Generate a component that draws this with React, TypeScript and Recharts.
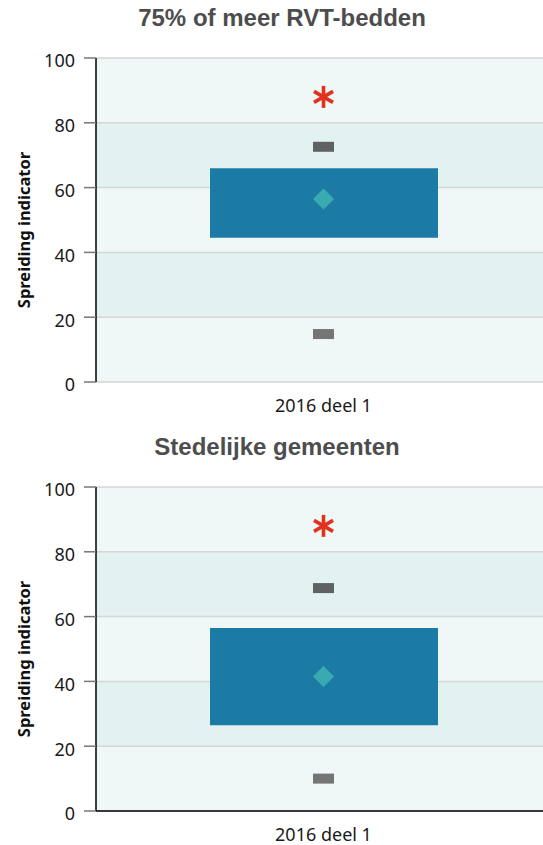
import React from "react";
import { ComposedChart, Bar, Scatter, XAxis, YAxis, CartesianGrid } from "recharts";

const categories = ["2016 deel 1"];
const titles = ["75% of meer RVT-bedden", "Stedelijke gemeenten"];
const q1Values = [44.5, 26.5];
const q3Values = [66, 56.5];
const meanValues = [56.5, 41.5];
const upperValues = [72.6, 68.8];
const lowerValues = [14.8, 10];
const outlierValues = [88, 88];
const yTicks = [0, 20, 40, 60, 80, 100];
const yAxisTitle = "Spreiding indicator";

const CHART_W = 560;
const CHART_H = 430;
const OFFSET = 429;
const titleCenters = [282, 277];

const Diamond = (props: any) => {
  const { cx, cy } = props;
  const r = 10.5;
  return <polygon points={`${cx},${cy - r} ${cx + r},${cy} ${cx},${cy + r} ${cx - r},${cy}`} fill="#38aab0" />;
};
const UpperMark = (props: any) => {
  const { cx, cy } = props;
  return <rect x={cx - 10.5} y={cy - 5} width={21} height={10} fill="#5f6163" />;
};
const LowerMark = (props: any) => {
  const { cx, cy } = props;
  return <rect x={cx - 10.5} y={cy - 5} width={21} height={10} fill="#757575" />;
};
const Asterisk = (props: any) => {
  const { cx, cy } = props;
  const r = 11;
  const angles = [90, 30, 150];
  return (
    <g stroke="#e2311d" strokeWidth={3.6}>
      {angles.map((a) => {
        const rad = (a * Math.PI) / 180;
        const dx = Math.cos(rad) * r;
        const dy = Math.sin(rad) * r;
        return <line key={a} x1={cx - dx} y1={cy - dy} x2={cx + dx} y2={cy + dy} />;
      })}
    </g>
  );
};

function BoxChart({ idx }: { idx: number }) {
  const data = [
    {
      cat: categories[0],
      box: [q1Values[idx], q3Values[idx]],
      mean: meanValues[idx],
      upper: upperValues[idx],
      lower: lowerValues[idx],
      outlier: outlierValues[idx],
    },
  ];
  const tickStyle = { fill: "#1a1a1a", fontSize: 18, fontFamily: "'Noto Sans', sans-serif" };
  return (
    <div style={{ position: "absolute", left: 0, top: idx * OFFSET, width: CHART_W, height: CHART_H }}>
      <div
        style={{
          position: "absolute",
          left: titleCenters[idx] - 220,
          width: 440,
          top: 5.7,
          textAlign: "center",
          fontFamily: "'Liberation Sans', Arial, sans-serif",
          fontWeight: "bold",
          fontSize: 24,
          lineHeight: "24px",
          color: "#4d4d4d",
          whiteSpace: "nowrap",
        }}
      >
        {titles[idx]}
      </div>
      <div
        style={{
          position: "absolute",
          left: 24,
          top: 230,
          transform: "translate(-50%, -50%) rotate(-90deg)",
          fontFamily: "'Noto Sans', sans-serif",
          fontWeight: "bold",
          fontSize: 16.5,
          lineHeight: 1,
          color: "#111",
          whiteSpace: "nowrap",
        }}
      >
        {yAxisTitle}
      </div>
      <ComposedChart
        width={CHART_W}
        height={CHART_H}
        data={data}
        margin={{ top: 58, right: 9, bottom: 18, left: 0 }}
        style={{ position: "absolute", left: 0, top: 0 }}
      >
        <CartesianGrid
          vertical={false}
          stroke="#d6d6d6"
          strokeWidth={1.5}
          horizontalFill={["#eff8f7", "#e2f2f1"]}
          fillOpacity={1}
        />
        <XAxis
          dataKey="cat"
          height={30}
          tickLine={false}
          tickSize={0}
          tickMargin={17}
          axisLine={idx === 1 ? { stroke: "#000", strokeWidth: 1.5 } : false}
          tick={tickStyle}
        />
        <YAxis
          width={96}
          domain={[0, 100]}
          ticks={yTicks}
          type="number"
          tickSize={12}
          tickMargin={9}
          tickLine={{ stroke: "#777", strokeWidth: 1.5 }}
          axisLine={{ stroke: "#000", strokeWidth: 1.5 }}
          tick={{ ...tickStyle, dy: 3 }}
        />
        <Bar dataKey="box" fill="#1c7ba5" barSize={228} isAnimationActive={false} />
        <Scatter dataKey="mean" shape={Diamond} isAnimationActive={false} />
        <Scatter dataKey="upper" shape={UpperMark} isAnimationActive={false} />
        <Scatter dataKey="lower" shape={LowerMark} isAnimationActive={false} />
        <Scatter dataKey="outlier" shape={Asterisk} isAnimationActive={false} />
      </ComposedChart>
    </div>
  );
}

export default function App() {
  return (
    <div style={{ position: "absolute", left: 0, top: 0, width: 543, height: 845, overflow: "hidden", background: "#fff" }}>
      <BoxChart idx={0} />
      <BoxChart idx={1} />
    </div>
  );
}
